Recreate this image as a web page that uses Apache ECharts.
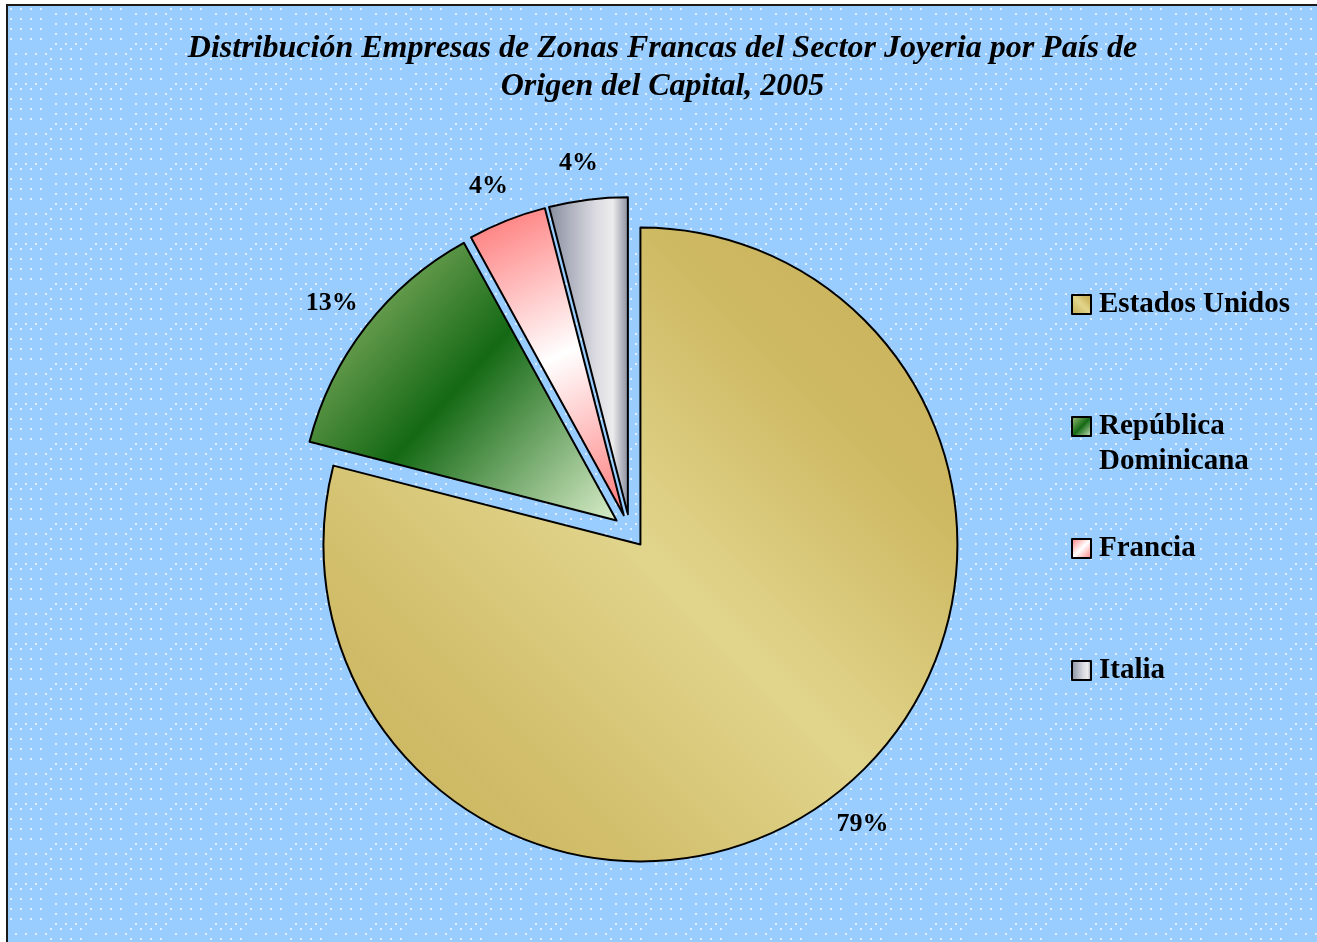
<!DOCTYPE html>
<html>
<head>
<meta charset="utf-8">
<script src="https://cdn.jsdelivr.net/npm/echarts@6/dist/echarts.min.js"></script>
<style>
  html, body { margin: 0; padding: 0; background: #fff; overflow: hidden; }
  .frame {
    position: absolute; left: 6px; top: 4px; width: 1311px; height: 938px;
    border-left: 2px solid #1a1a1a; border-top: 2px solid #1a1a1a; box-sizing: border-box;
  }
  #chart { width: 100%; height: 100%; }
</style>
</head>
<body>
<div class="frame"><div id="chart"></div></div>
<script>
  // datos
  const titleText = 'Distribución Empresas de Zonas Francas del Sector Joyeria por País de\nOrigen del Capital, 2005'
  const countries = ['Estados Unidos', 'República Dominicana', 'Francia', 'Italia']
  const shares = [79, 13, 4, 4]
  const legendText = ['Estados Unidos', 'República\nDominicana', 'Francia', 'Italia']

  const G = echarts.graphic.LinearGradient
  const fills = [
    new G(0, 1, 1, 0, [
      { offset: 0, color: '#c8b15a' },
      { offset: 0.25, color: '#d2bf6c' },
      { offset: 0.5, color: '#e1d58c' },
      { offset: 0.75, color: '#cfba64' },
      { offset: 1, color: '#c6ae55' }
    ]),
    new G(0, 0, 1, 1, [
      { offset: 0, color: '#a9c47c' },
      { offset: 0.5, color: '#146914' },
      { offset: 1, color: '#dcefcc' }
    ]),
    new G(0, 0, 1, 1, [
      { offset: 0, color: '#ff7070' },
      { offset: 0.5, color: '#ffffff' },
      { offset: 1, color: '#ff7878' }
    ]),
    new G(0, 0, 1, 0, [
      { offset: 0, color: '#868b9c' },
      { offset: 0.2, color: '#a4a8b6' },
      { offset: 0.6, color: '#dcdce2' },
      { offset: 0.8, color: '#ececec' },
      { offset: 1, color: '#868b9c' }
    ])
  ]

  // fondo punteado
  function dotPattern() {
    const c = document.createElement('canvas')
    c.width = 80; c.height = 80
    const ctx = c.getContext('2d')
    ctx.fillStyle = '#99ccff'
    ctx.fillRect(0, 0, 80, 80)
    ctx.fillStyle = 'rgba(235,245,255,0.85)'
    for (let bx = 0; bx < 2; bx++) {
      for (let by = 0; by < 2; by++) {
        const off = (bx + by) % 2 ? 5 : 0
        for (let x = 0; x < 40; x += 10) {
          for (let y = 0; y < 40; y += 10) {
            ctx.fillRect(bx * 40 + x + off + 2, by * 40 + y + off + 2, 2, 2)
          }
        }
      }
    }
    return c
  }

  const ec = echarts.init(document.getElementById('chart'))
  ec.setOption({
    animation: false,
    backgroundColor: { image: dotPattern(), repeat: 'repeat' },
    title: {
      text: titleText,
      left: 'center',
      top: 19,
      textStyle: {
        fontFamily: 'Liberation Serif',
        fontStyle: 'italic',
        fontWeight: 'bold',
        fontSize: 32,
        lineHeight: 38,
        color: '#000'
      }
    },
    legend: {
      orient: 'vertical',
      left: 1058,
      top: 241,
      itemGap: 17,
      itemWidth: 19,
      itemHeight: 19,
      icon: 'rect',
      selectedMode: false,
      data: countries,
      formatter: function (name) {
        const t = legendText[countries.indexOf(name)]
        return t.indexOf('\n') >= 0 ? '\n' + t : '\n' + t + '\n'
      },
      textStyle: {
        fontFamily: 'Liberation Serif',
        fontWeight: 'bold',
        fontSize: 29,
        lineHeight: 35,
        color: '#000',
        padding: [0, 0, 0, 3]
      }
    },
    series: [{
      type: 'pie',
      center: [622, 525],
      radius: 317,
      startAngle: 90,
      clockwise: true,
      selectedMode: 'multiple',
      selectedOffset: 17,
      avoidLabelOverlap: false,
      percentPrecision: 0,
      itemStyle: { borderColor: '#000', borderWidth: 2 },
      label: {
        position: 'outside',
        formatter: '{d}%',
        fontFamily: 'Liberation Serif',
        fontWeight: 'bold',
        fontSize: 26,
        color: '#000'
      },
      labelLine: { show: false, length: 37, length2: 0 },
      labelLayout: { align: 'center' },
      emphasis: { disabled: true },
      select: { itemStyle: { borderColor: '#000', borderWidth: 2 } },
      data: countries.map((n, i) => ({
        name: n,
        value: shares[i],
        selected: true,
        itemStyle: { color: fills[i] }
      }))
    }]
  })
</script>
</body>
</html>
